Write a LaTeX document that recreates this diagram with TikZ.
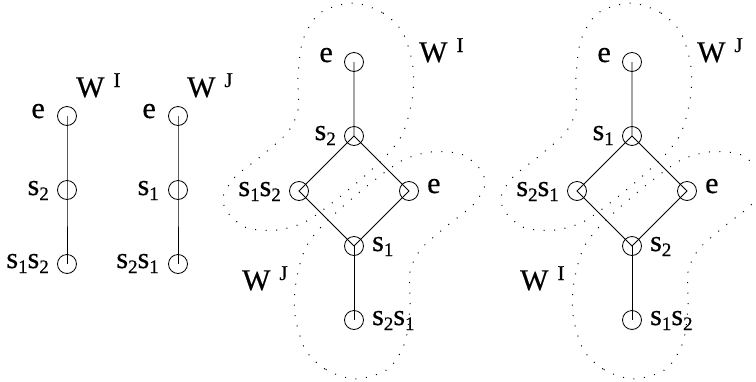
\documentclass[tikz,border=0pt]{standalone}
\usepackage{fontspec}
\setmainfont{Liberation Serif}
\newfontfamily\labfont{Liberation Serif}[FakeBold=0.5]
\newcommand\sbs[1]{\raisebox{-5pt}{\fontsize{19}{19}\selectfont #1}}
\newcommand\spW[1]{W\hspace{9pt}\raisebox{10pt}{\fontsize{21}{21}\selectfont #1}}
\begin{document}
\begin{tikzpicture}[x=1pt,y=-1pt,
  vtx/.style={circle,draw,minimum size=19pt,inner sep=0pt,line width=0.8pt},
  edge/.style={line width=0.8pt},
  lab/.style={inner sep=0pt,font=\labfont\fontsize{30}{30}\selectfont},
  blob/.style={line width=1pt,dash pattern=on 1pt off 9.5pt}]
\useasboundingbox (0,0) rectangle (756,381);

% dotted regions
\foreach \sx in {354,632}{
  \foreach \r in {0,180}{
    \begin{scope}[shift={(\sx,191)},rotate=\r]
      \draw[blob] plot[smooth cycle] coordinates {(-1,-188) (29,-178) (49,-158) (59,-124) (58,-91) (49,-58) (33,-36) (6,-11) (-22,12) (-49,31) (-77,39) (-107,37) (-126,22) (-131,6) (-119,-14) (-94,-34) (-67,-58) (-56,-81) (-56,-114) (-51,-151) (-34,-178)};
    \end{scope}
  }
}

% chain 1
\node[vtx] (a1) at (67,116) {};
\node[vtx] (a2) at (67,190) {};
\node[vtx] (a3) at (67,264) {};
\draw[edge] (a1.center) -- (a2.center) -- (a3.center);
\node[lab,anchor=base east] (la1) at (45,118) {e};
\node[lab,anchor=base east] (la2) at (49,195) {s\sbs{2}};
\node[lab,anchor=base east] (la3) at (49,268) {s\sbs{1}s\sbs{2}};
\node[lab,anchor=base west] (wa) at (76,97) {\spW{I}};

% chain 2
\node[vtx] (b1) at (178,116) {};
\node[vtx] (b2) at (178,190) {};
\node[vtx] (b3) at (178,264) {};
\draw[edge] (b1.center) -- (b2.center) -- (b3.center);
\node[lab,anchor=base east] (lb1) at (156,118) {e};
\node[lab,anchor=base east] (lb2) at (159,195) {s\sbs{1}};
\node[lab,anchor=base east] (lb3) at (159,268) {s\sbs{2}s\sbs{1}};
\node[lab,anchor=base west] (wb) at (187,97) {\spW{J}};

% middle diagram
\node[vtx] (m1) at (354,62) {};
\node[vtx] (m2) at (354,136) {};
\node[vtx] (m3) at (299,191) {};
\node[vtx] (m4) at (409,191) {};
\node[vtx] (m5) at (354,246) {};
\node[vtx] (m6) at (354,320) {};
\draw[edge] (m1.center) -- (m2.center) -- (m3.center) -- (m5.center) -- (m4.center) -- (m2.center);
\draw[edge] (m5.center) -- (m6.center);
\node[lab,anchor=base east] (lm1) at (333,62) {e};
\node[lab,anchor=base east] (lm2) at (336,140) {s\sbs{2}};
\node[lab,anchor=base east] (lm3) at (281,196) {s\sbs{1}s\sbs{2}};
\node[lab,anchor=base west] (lm4) at (427,193) {e};
\node[lab,anchor=base west] (lm5) at (372,251) {s\sbs{1}};
\node[lab,anchor=base west] (lm6) at (372,325) {s\sbs{2}s\sbs{1}};
\node[lab,anchor=base west] (wm1) at (419,62) {\spW{I}};
\node[lab,anchor=base west] (wm2) at (242,290) {\spW{J}};

% right diagram
\node[vtx] (r1) at (632,62) {};
\node[vtx] (r2) at (632,136) {};
\node[vtx] (r3) at (577,191) {};
\node[vtx] (r4) at (687,191) {};
\node[vtx] (r5) at (632,246) {};
\node[vtx] (r6) at (632,320) {};
\draw[edge] (r1.center) -- (r2.center) -- (r3.center) -- (r5.center) -- (r4.center) -- (r2.center);
\draw[edge] (r5.center) -- (r6.center);
\node[lab,anchor=base east] (lr1) at (611,62) {e};
\node[lab,anchor=base east] (lr2) at (614,140) {s\sbs{1}};
\node[lab,anchor=base east] (lr3) at (559,196) {s\sbs{2}s\sbs{1}};
\node[lab,anchor=base west] (lr4) at (705,193) {e};
\node[lab,anchor=base west] (lr5) at (650,251) {s\sbs{2}};
\node[lab,anchor=base west] (lr6) at (650,325) {s\sbs{1}s\sbs{2}};
\node[lab,anchor=base west] (wr1) at (697,62) {\spW{J}};
\node[lab,anchor=base west] (wr2) at (520,290) {\spW{I}};
\end{tikzpicture}
\end{document}
